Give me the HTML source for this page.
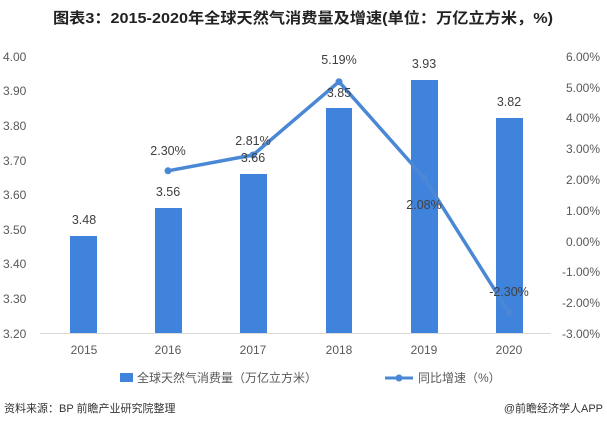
<!DOCTYPE html>
<html><head><meta charset="utf-8"><style>
body{margin:0;width:607px;height:427px;background:#fff;overflow:hidden}
svg text{font-family:"Liberation Sans","Noto Sans CJK SC",sans-serif}
</style></head><body>
<svg width="607" height="427" xmlns="http://www.w3.org/2000/svg">
<text x="303" y="23" text-anchor="middle" font-size="15" font-weight="bold" fill="#222" textLength="500" lengthAdjust="spacingAndGlyphs">图表3：2015-2020年全球天然气消费量及增速(单位：万亿立方米，%)</text>
<g font-size="12" fill="#595959">
<text x="3" y="61">4.00</text><text x="3" y="95">3.90</text><text x="3" y="130">3.80</text><text x="3" y="165">3.70</text><text x="3" y="199">3.60</text><text x="3" y="234">3.50</text><text x="3" y="268">3.40</text><text x="3" y="303">3.30</text><text x="3" y="338">3.20</text>
<g text-anchor="end"><text x="600" y="61">6.00%</text><text x="600" y="92">5.00%</text><text x="600" y="122">4.00%</text><text x="600" y="153">3.00%</text><text x="600" y="184">2.00%</text><text x="600" y="215">1.00%</text><text x="600" y="246">0.00%</text><text x="600" y="276">-1.00%</text><text x="600" y="307">-2.00%</text><text x="600" y="338">-3.00%</text></g>
<g text-anchor="middle"><text x="84" y="354">2015</text><text x="168" y="354">2016</text><text x="253" y="354">2017</text><text x="339" y="354">2018</text><text x="424" y="354">2019</text><text x="509" y="354">2020</text></g>
</g>
<line x1="40" y1="333.5" x2="551" y2="333.5" stroke="#d9d9d9"/>
<g fill="#3f83dc">
<rect x="70" y="236" width="27" height="97"/><rect x="155" y="208" width="27" height="125"/><rect x="240" y="174" width="27" height="159"/><rect x="326" y="108" width="26" height="225"/><rect x="411" y="80" width="27" height="253"/><rect x="496" y="118" width="27" height="215"/>
</g>
<polyline points="168,170.8 253,155 339,81.7 424,177.6 509,312.5" fill="none" stroke="#4a88d6" stroke-width="3.5" stroke-linejoin="round"/>
<g fill="#4a88d6"><circle cx="168" cy="170.8" r="3.5"/><circle cx="253" cy="155" r="3.5"/><circle cx="339" cy="81.7" r="3.5"/><circle cx="424" cy="177.6" r="3.5"/><circle cx="509" cy="312.5" r="3.5"/></g>
<g font-size="12.5" fill="#404040" text-anchor="middle">
<text x="84" y="224">3.48</text><text x="168" y="196">3.56</text><text x="253" y="162">3.66</text><text x="339" y="97">3.85</text><text x="424" y="68">3.93</text><text x="509" y="106">3.82</text>
<text x="168" y="155">2.30%</text><text x="253" y="145">2.81%</text><text x="339" y="64">5.19%</text><text x="424" y="209">2.08%</text><text x="509" y="296">-2.30%</text>
</g>
<rect x="120" y="373" width="13" height="9" fill="#3f83dc"/>
<text x="137" y="382" font-size="12" fill="#595959">全球天然气消费量（万亿立方米）</text>
<line x1="385" y1="378" x2="413" y2="378" stroke="#4a88d6" stroke-width="3"/><circle cx="399" cy="378" r="3.5" fill="#4a88d6"/>
<text x="418" y="382" font-size="12" fill="#595959">同比增速（%）</text>
<text x="4" y="412" font-size="11" fill="#333">资料来源：BP 前瞻产业研究院整理</text>
<text x="603" y="412" font-size="11" fill="#333" text-anchor="end">@前瞻经济学人APP</text>
</svg>
</body></html>
